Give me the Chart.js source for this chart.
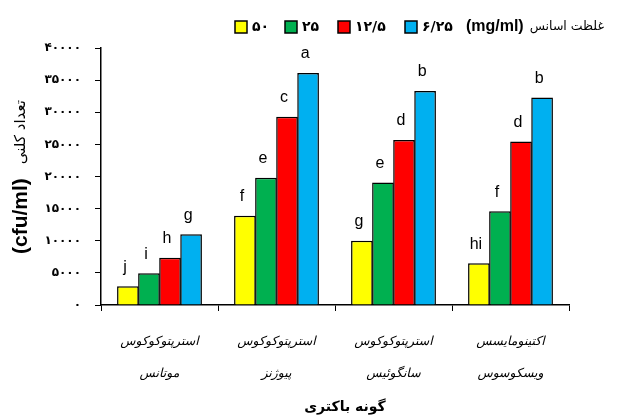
<!DOCTYPE html>
<html><head><meta charset="utf-8">
<script src="https://cdn.jsdelivr.net/npm/chart.js@4/dist/chart.umd.min.js"></script>
<style>html,body{margin:0;padding:0;background:#fff}#wrap{width:624px;height:419px}</style>
</head><body><div id="wrap"><canvas id="c" width="624" height="419"></canvas></div>
<script>
const categories = [
  ["استرپتوکوکوس", "موتانس"],
  ["استرپتوکوکوس", "پیوژنز"],
  ["استرپتوکوکوس", "سانگوئیس"],
  ["اکتینومایسس", "ویسکوسوس"]
];
const seriesNames = ["۵۰", "۲۵", "۱۲/۵", "۶/۲۵"];
// values per concentration (mg/ml) across the four bacteria
const s50 = [2900, 13900, 10000, 6500];
const s25 = [4950, 19800, 19050, 14600];
const s125 = [7350, 29300, 25700, 25450];
const s625 = [11000, 36100, 33300, 32300];
const letters50 = ["j", "f", "g", "hi"];
const letters25 = ["i", "e", "e", "f"];
const letters125 = ["h", "c", "d", "d"];
const letters625 = ["g", "a", "b", "b"];
const yTicks = [0, 5000, 10000, 15000, 20000, 25000, 30000, 35000, 40000];
const legendTitle = "غلظت اسانس";
const legendUnit = "(mg/ml)";
const yTitle = "تعداد کلنی";
const yUnit = "(cfu/ml)";
const xTitle = "گونه باکتری";

const colors = ["#FFFF00", "#00B050", "#FF0000", "#00B0F0"];
const fa = n => String(n).replace(/\d/g, d => "۰۱۲۳۴۵۶۷۸۹"[d]);
const PF = "'DejaVu Sans', sans-serif";
const LF = "'Liberation Sans', Arial, sans-serif";

const seriesData = [s50, s25, s125, s625];
const seriesLetters = [letters50, letters25, letters125, letters625];

const extras = {
  id: 'extras',
  afterDatasetsDraw(chart) {
    const ctx = chart.ctx;
    ctx.save();
    // letters above bars
    ctx.font = "16px " + LF;
    ctx.fillStyle = "#000";
    ctx.textAlign = "center";
    ctx.textBaseline = "middle";
    chart.data.datasets.forEach((ds, i) => {
      const meta = chart.getDatasetMeta(i);
      meta.data.forEach((bar, j) => {
        ctx.fillText(ds.letters[j], bar.x - 3, bar.y - 19);
      });
    });
    // legend
    let x = 235;
    const gaps = [50, 53, 67];
    chart.data.datasets.forEach((ds, i) => {
      ctx.fillStyle = ds.backgroundColor;
      ctx.fillRect(x, 21, 12, 12);
      ctx.lineWidth = 1.5;
      ctx.strokeStyle = "#000";
      ctx.strokeRect(x, 21, 12, 12);
      ctx.fillStyle = "#000";
      ctx.font = "bold 14px " + PF;
      ctx.textAlign = "left";
      ctx.fillText(ds.label, x + 17, 27);
      if (i < gaps.length) x += gaps[i];
    });
    ctx.textAlign = "right";
    ctx.font = "12.5px " + PF;
    ctx.fillText(legendTitle, 604, 27);
    const w = ctx.measureText(legendTitle).width;
    ctx.font = "bold 16px " + LF;
    ctx.fillText(legendUnit, 604 - w - 6, 27);
    // y title
    ctx.save();
    ctx.translate(21, 254);
    ctx.rotate(-Math.PI / 2);
    ctx.textAlign = "left";
    ctx.font = "bold 21px " + LF;
    ctx.fillText(yUnit, 0, 0);
    const w2 = ctx.measureText(yUnit).width;
    ctx.font = "15px " + PF;
    ctx.fillText(yTitle, w2 + 14, 0);
    ctx.restore();
    // x title
    ctx.textAlign = "center";
    ctx.font = "bold 14px " + PF;
    ctx.fillText(xTitle, 345, 407);
    ctx.restore();
  }
};

new Chart(document.getElementById('c'), {
  type: 'bar',
  data: {
    labels: categories,
    datasets: seriesData.map((d, i) => ({
      label: seriesNames[i],
      data: d,
      letters: seriesLetters[i],
      backgroundColor: colors[i],
      borderColor: "#000",
      borderWidth: 1.5,
      barPercentage: 1.03,
      categoryPercentage: 0.72
    }))
  },
  options: {
    responsive: false,
    animation: false,
    layout: { padding: { top: 48, right: 55, left: 0, bottom: 0 } },
    plugins: { legend: { display: false }, tooltip: { enabled: false } },
    scales: {
      x: {
        afterFit(s) { s.height = 114; },
        grid: { offset: true, drawOnChartArea: false, color: "#000", tickLength: 6, lineWidth: 1 },
        border: { color: "#000", width: 1.5 },
        ticks: { color: "#000", padding: 14, maxRotation: 0, autoSkip: false,
          font: { family: PF, size: 12.5, style: 'italic', lineHeight: 2.6 } }
      },
      y: {
        min: 0, max: 40000,
        afterFit(s) { s.width = 101; },
        afterBuildTicks(s) { s.ticks = yTicks.map(v => ({ value: v })); },
        grid: { drawOnChartArea: false, color: "#000", tickLength: 6 },
        border: { color: "#000", width: 1.5 },
        ticks: { color: "#000", padding: 14, callback: v => fa(v),
          font: { family: PF, size: 12, weight: 'bold' } }
      }
    }
  },
  plugins: [extras]
});
</script>
</body></html>
